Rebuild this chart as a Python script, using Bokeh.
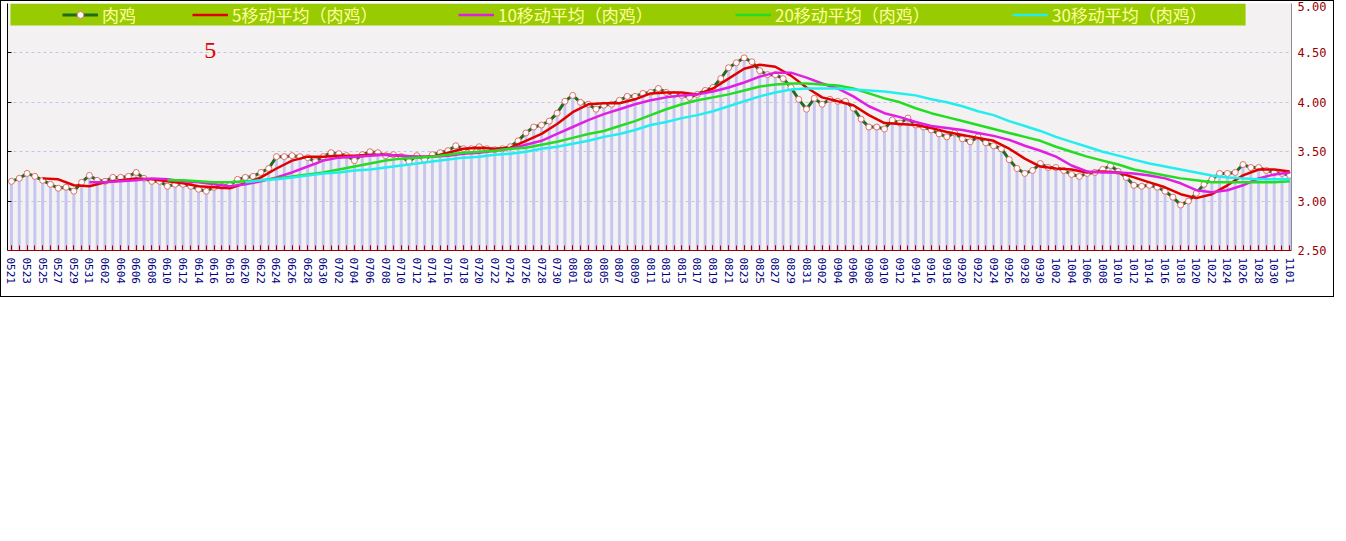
import pandas as pd
from bokeh.plotting import figure
from bokeh.models import (LinearAxis, FixedTicker, NumeralTickFormatter, BoxAnnotation,
                          Legend, LegendItem, Label, Range1d)
from bokeh.embed import file_html
from bokeh.resources import INLINE

# ---------------- data ----------------
dates = [d.strftime("%m%d") for d in pd.date_range("2018-05-21", "2018-11-01")]

chicken = [
    3.20, 3.23, 3.28, 3.25, 3.21, 3.17, 3.13, 3.14, 3.10, 3.19,
    3.26, 3.21, 3.20, 3.24, 3.24, 3.25, 3.29, 3.23, 3.20, 3.20,
    3.15, 3.17, 3.17, 3.15, 3.12, 3.10, 3.14, 3.15, 3.16, 3.22,
    3.24, 3.25, 3.29, 3.33, 3.45, 3.45, 3.46, 3.45, 3.44, 3.40,
    3.45, 3.49, 3.48, 3.46, 3.41, 3.47, 3.50, 3.49, 3.46, 3.47,
    3.45, 3.40, 3.46, 3.42, 3.47, 3.49, 3.51, 3.56, 3.53, 3.53,
    3.55, 3.53, 3.52, 3.53, 3.55, 3.61, 3.69, 3.75, 3.77, 3.81,
    3.89, 4.01, 4.07, 4.00, 3.98, 3.93, 3.97, 3.98, 4.02, 4.06,
    4.06, 4.09, 4.10, 4.14, 4.10, 4.08, 4.07, 4.05, 4.08, 4.12,
    4.15, 4.24, 4.35, 4.40, 4.45, 4.41, 4.32, 4.28, 4.28, 4.24,
    4.15, 4.03, 3.93, 4.04, 3.98, 4.03, 4.01, 4.01, 3.94, 3.83,
    3.75, 3.75, 3.73, 3.82, 3.79, 3.84, 3.77, 3.75, 3.72, 3.68,
    3.65, 3.69, 3.63, 3.60, 3.65, 3.59, 3.56, 3.53, 3.42, 3.33,
    3.28, 3.31, 3.38, 3.34, 3.34, 3.31, 3.27, 3.25, 3.28, 3.29,
    3.32, 3.36, 3.30, 3.24, 3.16, 3.15, 3.16, 3.14, 3.10, 3.04,
    2.96, 3.00, 3.08, 3.17, 3.22, 3.28, 3.28, 3.29, 3.37, 3.34,
    3.34, 3.31, 3.29, 3.28, 3.26,
]

# moving averages, read every second day starting at the given day index
ma5_start = 4
ma5 = [
    3.23, 3.22, 3.16, 3.15, 3.19, 3.21, 3.23, 3.22, 3.20, 3.18,
    3.15, 3.14, 3.13, 3.18, 3.24, 3.33, 3.41, 3.45, 3.45, 3.46,
    3.46, 3.47, 3.47, 3.46, 3.45, 3.45, 3.49, 3.53, 3.54, 3.53,
    3.54, 3.61, 3.68, 3.78, 3.90, 3.98, 3.99, 3.99, 4.03, 4.09,
    4.10, 4.10, 4.08, 4.14, 4.24, 4.34, 4.38, 4.36, 4.27, 4.15,
    4.05, 4.01, 3.97, 3.87, 3.79, 3.78, 3.77, 3.74, 3.70, 3.67,
    3.64, 3.61, 3.53, 3.43, 3.35, 3.33, 3.32, 3.29, 3.30, 3.29,
    3.24, 3.19, 3.14, 3.07, 3.03, 3.07, 3.16, 3.26, 3.32, 3.32,
    3.30,
]
ma10_start = 10
ma10 = [
    3.19, 3.19, 3.20, 3.21, 3.23, 3.22, 3.20, 3.19, 3.17, 3.15,
    3.17, 3.20, 3.24, 3.29, 3.35, 3.41, 3.44, 3.45, 3.46, 3.47,
    3.46, 3.45, 3.45, 3.46, 3.48, 3.49, 3.51, 3.53, 3.57, 3.61,
    3.68, 3.75, 3.82, 3.88, 3.93, 3.98, 4.02, 4.05, 4.07, 4.08,
    4.11, 4.15, 4.20, 4.26, 4.30, 4.30, 4.25, 4.19, 4.14, 4.06,
    3.96, 3.89, 3.85, 3.80, 3.76, 3.74, 3.72, 3.69, 3.66, 3.62,
    3.56, 3.51, 3.45, 3.36, 3.30, 3.29, 3.29, 3.28, 3.26, 3.23,
    3.18, 3.11, 3.09, 3.11, 3.16, 3.23, 3.27, 3.29,
]
ma20_start = 20
ma20 = [
    3.21, 3.21, 3.20, 3.19, 3.19, 3.20, 3.21, 3.23, 3.25, 3.27,
    3.29, 3.32, 3.35, 3.38, 3.41, 3.43, 3.44, 3.45, 3.47, 3.49,
    3.50, 3.51, 3.53, 3.54, 3.57, 3.60, 3.64, 3.68, 3.71, 3.76,
    3.81, 3.87, 3.93, 3.98, 4.02, 4.05, 4.08, 4.12, 4.16, 4.18,
    4.19, 4.19, 4.18, 4.17, 4.14, 4.09, 4.04, 4.00, 3.94, 3.89,
    3.85, 3.81, 3.77, 3.73, 3.69, 3.65, 3.61, 3.55, 3.50, 3.45,
    3.41, 3.37, 3.32, 3.29, 3.26, 3.23, 3.21, 3.19, 3.19, 3.19,
    3.19, 3.19, 3.20,
]
ma30_start = 30
ma30 = [
    3.19, 3.21, 3.22, 3.24, 3.26, 3.28, 3.29, 3.31, 3.32, 3.34,
    3.36, 3.38, 3.40, 3.42, 3.44, 3.45, 3.47, 3.48, 3.50, 3.53,
    3.55, 3.58, 3.61, 3.65, 3.68, 3.72, 3.77, 3.80, 3.84, 3.87,
    3.91, 3.96, 4.01, 4.06, 4.10, 4.13, 4.14, 4.14, 4.14, 4.13,
    4.12, 4.11, 4.09, 4.07, 4.03, 4.00, 3.96, 3.91, 3.87, 3.81,
    3.76, 3.71, 3.65, 3.60, 3.55, 3.50, 3.46, 3.42, 3.38, 3.35,
    3.32, 3.29, 3.26, 3.24, 3.23, 3.22, 3.22, 3.22,
]

legend_labels = ["肉鸡", "5移动平均（肉鸡）", "10移动平均（肉鸡）",
                 "20移动平均（肉鸡）", "30移动平均（肉鸡）"]
y_ticks = [2.5, 3.0, 3.5, 4.0, 4.5, 5.0]
grid_ticks = [3.0, 3.5, 4.0, 4.5]

# ---------------- figure ----------------
idx = list(range(len(dates)))
n = len(idx)

p = figure(width=1334, height=297,
           x_range=Range1d(-0.51, n - 1 + 0.22), y_range=Range1d(2.5, 5.0),
           y_axis_location="right",
           output_backend="svg", toolbar_location=None,
           min_border_left=6, min_border_right=44, min_border_top=2, min_border_bottom=48)
p.styles = {"border": "1px solid black"}

p.background_fill_color = "#F3F1F1"
p.border_fill_color = "white"
p.outline_line_color = None

p.xgrid.visible = False
p.ygrid.ticker = FixedTicker(ticks=grid_ticks)
p.ygrid.grid_line_color = "#C4C4E6"
p.ygrid.grid_line_dash = "3 3"
p.ygrid.grid_line_width = 1

# bars
p.vbar(x=idx, top=chicken, bottom=2.5, width=0.38, fill_color="#C6C6F0", line_color=None)

# main line + markers
main_line = p.line(idx, chicken, line_color="#1F6B1F", line_width=3)
main_pts = p.scatter(idx, chicken, size=6, fill_color="white", line_color="#E07070",
                     line_width=1)

def ma_x(start, vals):
    xs = idx[start::2]
    assert len(xs) == len(vals), (start, len(xs), len(vals))
    return xs

r5 = p.line(ma_x(ma5_start, ma5), ma5, line_color="#E00000", line_width=2.5)
r10 = p.line(ma_x(ma10_start, ma10), ma10, line_color="#E020E0", line_width=2.5)
r20 = p.line(ma_x(ma20_start, ma20), ma20, line_color="#22DD22", line_width=2.5)
r30 = p.line(ma_x(ma30_start, ma30), ma30, line_color="#22EEEE", line_width=2.5)

# axes
xa = p.xaxis[0]
xa.ticker = FixedTicker(ticks=idx[::2], minor_ticks=idx)
xa.major_label_overrides = {i: dates[i] for i in idx[::2]}
xa.major_label_orientation = "vertical"
xa.major_label_text_font = "DejaVu Sans Mono"
xa.major_label_text_font_size = "11px"
xa.major_label_text_color = "#000080"
xa.major_label_standoff = 7
xa.axis_line_color = "#A00000"
xa.major_tick_line_color = "#A00000"
xa.minor_tick_line_color = "#A00000"
xa.major_tick_in = 5
xa.major_tick_out = 0
xa.minor_tick_in = 5
xa.minor_tick_out = 0

ya = p.yaxis[0]
ya.ticker = FixedTicker(ticks=y_ticks)
ya.formatter = NumeralTickFormatter(format="0.00")
ya.major_label_text_font = "DejaVu Sans Mono"
ya.major_label_text_font_size = "12px"
ya.major_label_text_color = "#990000"
ya.major_label_standoff = 6
ya.axis_line_color = "#8C8C8C"
ya.major_tick_in = 0
ya.major_tick_out = 0
ya.minor_tick_in = 0
ya.minor_tick_out = 0

# left axis: line plus small inward ticks at the grid lines, no labels
la = LinearAxis(ticker=FixedTicker(ticks=[], minor_ticks=grid_ticks),
                major_tick_in=0, major_tick_out=0,
                minor_tick_in=4, minor_tick_out=0, axis_line_color="black",
                minor_tick_line_color="black", major_label_standoff=0)
p.add_layout(la, "left")

# legend band + one legend per series (so each sits where the reference puts it)
band = BoxAnnotation(left=-0.13, right=158.33, bottom=4.777, top=5.0,
                     fill_color="#99CC00", fill_alpha=1.0, line_color=None)
p.add_layout(band)

legend_renderers = [[main_line, main_pts], [r5], [r10], [r20], [r30]]
legend_offsets = [55, 185, 451, 728, 1005]
for lab, rends, off in zip(legend_labels, legend_renderers, legend_offsets):
    lg = Legend(items=[LegendItem(label=lab, renderers=rends)],
                orientation="horizontal", location=(off, 223),
                label_text_font="Noto Sans CJK SC", label_text_font_size="17px",
                label_text_color="#FFFFA0", glyph_width=36, glyph_height=17,
                label_height=17, label_standoff=4, padding=0, margin=0,
                background_fill_alpha=0, border_line_alpha=0)
    p.add_layout(lg)

p.add_layout(Label(x=25.5, y=4.52, text="5", text_color="#E00000",
                   text_font="Liberation Serif", text_font_size="24px",
                   text_align="center", text_baseline="middle"))

open("out.html", "w").write(file_html(p, INLINE))
